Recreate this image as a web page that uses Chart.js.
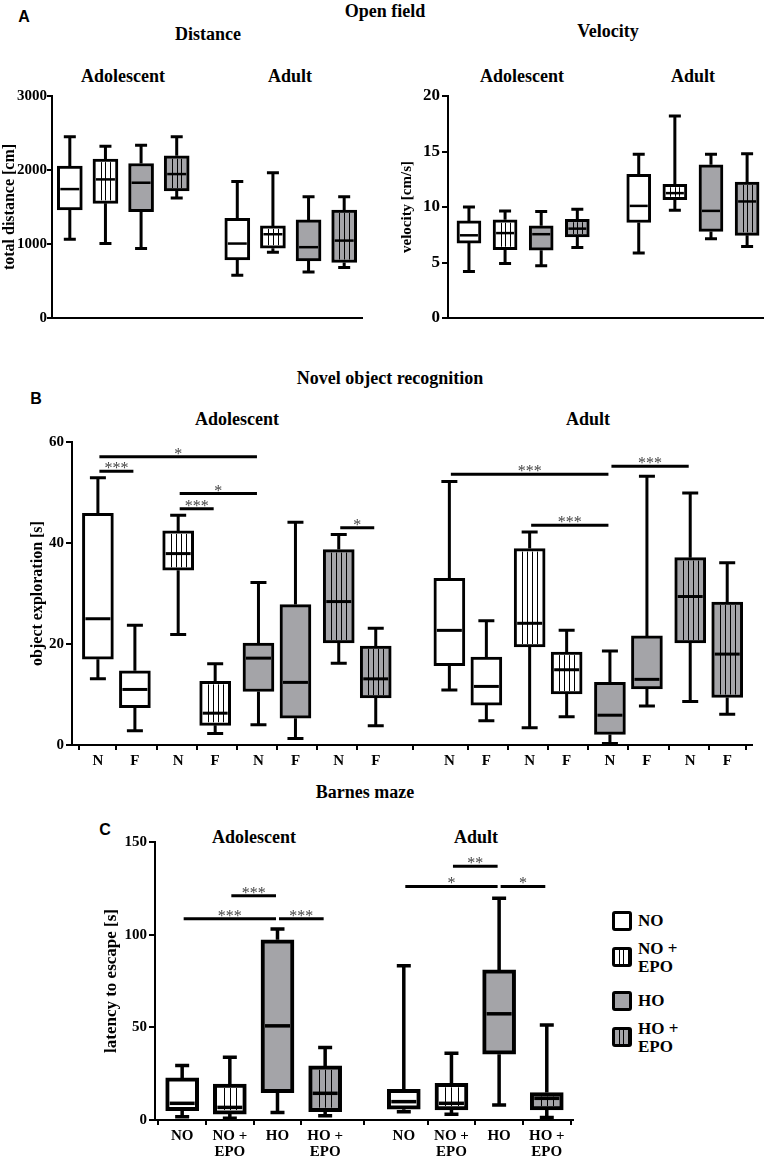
<!DOCTYPE html>
<html>
<head>
<meta charset="utf-8">
<script src="https://cdn.jsdelivr.net/npm/chart.js@4.4.1/dist/chart.umd.min.js"></script>
<style>
body { margin: 0; background: #fff; width: 770px; height: 1160px; position: relative; overflow: hidden;
       font-family: "Liberation Serif", "Times New Roman", serif; color: #000; }
canvas { position: absolute; }
.t { position: absolute; transform: translate(-50%, -50%); font-weight: bold; white-space: nowrap; font-size: 18px; }
.letter { position: absolute; transform: translate(-50%, -50%); font-family: "Liberation Sans", Arial, sans-serif;
          font-weight: bold; font-size: 16px; }
.leg { position: absolute; left: 612px; width: 20px; height: 20px; box-sizing: border-box; border: 3px solid #000; border-radius: 3px; }
.legtxt { position: absolute; left: 638px; font-weight: bold; font-size: 17px; line-height: 18px; transform: translateY(-50%); }
</style>
</head>
<body>

<div class="letter" style="left:24px;top:17px">A</div>
<div class="t" style="left:385px;top:11px">Open field</div>
<div class="t" style="left:208px;top:34px">Distance</div>
<div class="t" style="left:608px;top:31px">Velocity</div>
<div class="t" style="left:123px;top:76px">Adolescent</div>
<div class="t" style="left:290px;top:76px">Adult</div>
<div class="t" style="left:522px;top:76px">Adolescent</div>
<div class="t" style="left:693px;top:76px">Adult</div>

<div class="t" style="left:390px;top:378px">Novel object recognition</div>
<div class="letter" style="left:36px;top:399px">B</div>
<div class="t" style="left:237px;top:419px">Adolescent</div>
<div class="t" style="left:588px;top:419px">Adult</div>

<div class="t" style="left:365px;top:792px">Barnes maze</div>
<div class="letter" style="left:105px;top:830px">C</div>
<div class="t" style="left:254px;top:837px">Adolescent</div>
<div class="t" style="left:476px;top:837px">Adult</div>

<canvas id="dist" width="370" height="260" style="left:0;top:80px"></canvas>
<canvas id="vel" width="380" height="260" style="left:390px;top:80px"></canvas>
<canvas id="nor" width="770" height="350" style="left:0;top:430px"></canvas>
<canvas id="barnes" width="600" height="330" style="left:0;top:830px"></canvas>

<div class="leg" style="top:911px;background:#fff"></div>
<div class="legtxt" style="top:921px">NO</div>
<div class="leg" style="top:947px;background:#fff repeating-linear-gradient(90deg, transparent 0 3.5px, #000 3.5px 4.5px)"></div>
<div class="legtxt" style="top:958px">NO +<br>EPO</div>
<div class="leg" style="top:991px;background:#a4a4a8"></div>
<div class="legtxt" style="top:1001px">HO</div>
<div class="leg" style="top:1027px;background:#a4a4a8 repeating-linear-gradient(90deg, transparent 0 3.5px, #000 3.5px 4.5px)"></div>
<div class="legtxt" style="top:1038px">HO +<br>EPO</div>

<script>
// groups: adolescent NO, NO+EPO, HO, HO+EPO, then adult in the same order
const treatments = ['NO', 'NO + EPO', 'HO', 'HO + EPO'];

// open field - distance [cm]
const distMin = [1064, 1006, 939, 1621, 579, 889, 620, 683];
const distQ1 = [1460, 1549, 1437, 1716, 786, 943, 772, 750];
const distMed = [1742, 1873, 1828, 1945, 1006, 1132, 957, 1046];
const distQ3 = [2052, 2147, 2088, 2192, 1347, 1244, 1325, 1460];
const distMax = [2448, 2322, 2335, 2448, 1846, 1963, 1639, 1639];

// open field - velocity [cm/s]
const velMin = [4.2, 4.9, 4.7, 6.35, 5.85, 9.7, 7.15, 6.45];
const velQ1 = [6.75, 6.15, 6.1, 7.3, 8.6, 10.65, 7.8, 7.45];
const velMed = [7.45, 7.65, 7.55, 8.05, 10.1, 11.25, 9.65, 10.5];
const velQ3 = [8.75, 8.85, 8.3, 8.9, 12.95, 12.05, 13.8, 12.25];
const velMax = [10.0, 9.65, 9.6, 9.8, 14.75, 18.2, 14.75, 14.8];

// novel object recognition [s]; N/F pairs per group, adolescent then adult
const norTickLabels = ['N', 'F', 'N', 'F', 'N', 'F', 'N', 'F', 'N', 'F', 'N', 'F', 'N', 'F', 'N', 'F'];
const norMin = [13.1, 2.8, 21.9, 2.3, 4.0, 1.3, 16.2, 3.8, 10.9, 4.8, 3.4, 5.6, 0.3, 7.7, 8.6, 6.1];
const norQ1 = [17.0, 7.4, 34.6, 3.9, 10.6, 5.3, 20.2, 9.3, 15.7, 7.9, 19.4, 10.1, 2.1, 11.1, 20.2, 9.4];
const norMed = [25.0, 11.0, 37.9, 6.3, 17.2, 12.4, 28.4, 13.1, 22.7, 11.6, 24.1, 14.9, 5.9, 13.0, 29.4, 18.0];
const norQ3 = [45.9, 14.7, 42.4, 12.6, 20.2, 27.8, 38.7, 19.6, 33.0, 17.4, 38.9, 18.4, 12.4, 21.6, 37.1, 28.3];
const norMax = [52.9, 23.7, 45.5, 16.1, 32.2, 44.1, 41.7, 23.1, 52.2, 24.6, 42.2, 22.7, 18.6, 53.2, 49.9, 36.1];
// [from box, to box, level, stars]
const norSig = [[0, 4, 57.1, '*'], [0, 1, 54.2, '***'], [2, 4, 49.8, '*'], [2, 3, 46.8, '***'], [6, 7, 43.0, '*'],
                [8, 12, 53.6, '***'], [12, 14, 55.2, '***'], [10, 12, 43.5, '***']];

// barnes maze latency [s]
const barnesTickLabels = ['NO', ['NO +', 'EPO'], 'HO', ['HO +', 'EPO'], 'NO', ['NO +', 'EPO'], 'HO', ['HO +', 'EPO']];
const barnesMin = [1.8, 0.9, 4.0, 2.3, 4.5, 3.1, 8.1, 1.4];
const barnesQ1 = [5.0, 3.2, 14.8, 4.5, 5.8, 5.4, 35.5, 5.4];
const barnesMed = [9.0, 6.8, 50.8, 14.4, 9.9, 9.0, 57.3, 11.7];
const barnesQ3 = [22.7, 19.4, 97.2, 29.2, 16.6, 19.8, 81.0, 14.8];
const barnesMax = [29.4, 33.9, 103.0, 39.1, 83.2, 36.0, 119.7, 51.3];
const barnesSig = [[0, 2, 108.6, '***'], [1, 2, 121.0, '***'], [2, 3, 108.6, '***'],
                   [4, 6, 126.0, '*'], [5, 6, 136.9, '**'], [6, 7, 126.0, '*']];

const fills = ['#ffffff', '#ffffff', '#a4a4a8', '#a4a4a8'];
const striped = [false, true, false, true];
const serif = '"Liberation Serif", "Times New Roman", serif';

function boxPlugin(o) {
  return {
    id: 'boxes',
    afterDatasetsDraw(chart) {
      const ctx = chart.ctx;
      const y = chart.scales.y;
      chart.data.datasets.forEach((ds, di) => {
        chart.getDatasetMeta(di).data.forEach((bar, i) => {
          const p = ds.data[i];
          const half = bar.width / 2;
          const bw = ds.borderWidth;
          const top = Math.min(bar.y, bar.base), bot = Math.max(bar.y, bar.base);
          ctx.save();
          ctx.strokeStyle = '#000';
          if (ds.striped) {
            ctx.lineWidth = 1;
            ctx.beginPath();
            const inner = bar.width - 2 * bw;
            const n = Math.round(inner / o.stripeGap);
            for (let k = 1; k < n; k++) {
              const sx = Math.round(bar.x - half + bw + k * inner / n) + 0.5;
              ctx.moveTo(sx, top + bw);
              ctx.lineTo(sx, bot - bw);
            }
            ctx.stroke();
          }
          const ym = y.getPixelForValue(p.med);
          ctx.lineWidth = o.medW;
          ctx.beginPath();
          ctx.moveTo(bar.x - half + bw, ym);
          ctx.lineTo(bar.x + half - bw, ym);
          ctx.stroke();

          const yHi = y.getPixelForValue(p.hi), yLo = y.getPixelForValue(p.lo);
          ctx.lineWidth = o.whiskW;
          ctx.beginPath();
          ctx.moveTo(bar.x, top); ctx.lineTo(bar.x, yHi);
          ctx.moveTo(bar.x - o.cap / 2, yHi); ctx.lineTo(bar.x + o.cap / 2, yHi);
          ctx.moveTo(bar.x, bot); ctx.lineTo(bar.x, yLo);
          ctx.moveTo(bar.x - o.cap / 2, yLo); ctx.lineTo(bar.x + o.cap / 2, yLo);
          ctx.stroke();
          ctx.restore();
        });
      });
    },
    afterDraw(chart) {
      if (!o.sig) return;
      const {ctx, scales: {x, y}} = chart;
      ctx.save();
      o.sig.forEach(s => {
        const x1 = x.getPixelForValue(o.pos(s[0])) + 1.5;
        const x2 = x.getPixelForValue(o.pos(s[1])) - 1.5;
        const yy = y.getPixelForValue(s[2]);
        ctx.strokeStyle = '#000';
        ctx.lineWidth = 3;
        ctx.beginPath();
        ctx.moveTo(x1, yy);
        ctx.lineTo(x2, yy);
        ctx.stroke();
        ctx.fillStyle = '#444';
        ctx.font = '16px ' + serif;
        ctx.textAlign = 'center';
        ctx.textBaseline = 'alphabetic';
        ctx.fillText(s[3], (x1 + x2) / 2, yy + 2);
      });
      ctx.restore();
    }
  };
}

function boxChart(id, o) {
  const idx = o.q1.map((_, i) => i);
  const datasets = treatments.map((name, t) => ({
    label: name,
    data: idx.filter(i => o.treat(i) === t).map(i => ({
      x: o.pos(i), y: [o.q1[i], o.q3[i]], lo: o.min[i], med: o.med[i], hi: o.max[i]
    })),
    backgroundColor: fills[t],
    borderColor: '#000',
    borderWidth: o.boxLine,
    borderSkipped: false,
    barThickness: o.boxW,
    grouped: false,
    striped: striped[t]
  }));
  const tickPos = idx.map(o.pos);

  return new Chart(document.getElementById(id), {
    type: 'bar',
    data: { datasets },
    options: {
      responsive: false,
      animation: false,
      events: [],
      layout: { padding: { top: o.padTop, right: o.padRight, left: o.padLeft || 0, bottom: 0 } },
      plugins: { legend: { display: false }, tooltip: { enabled: false } },
      scales: {
        x: {
          type: 'linear',
          min: o.xMin,
          max: o.xMax,
          offset: false,
          afterBuildTicks: s => { s.ticks = o.xLabels ? tickPos.map(v => ({ value: v })) : []; },
          afterFit: s => { s.height = o.hx; },
          ticks: {
            display: !!o.xLabels,
            autoSkip: false,
            maxRotation: 0,
            padding: 3,
            color: '#000',
            font: { family: serif, weight: 'bold', size: o.xFont || 14, lineHeight: 1.05 },
            callback: (v, i) => o.xLabels ? o.xLabels[i] : ''
          },
          grid: { display: !!o.xLabels, drawOnChartArea: false, color: '#000', lineWidth: 2, tickLength: 5 },
          border: { display: true, color: '#000', width: 2 }
        },
        y: {
          min: 0,
          max: o.yMax,
          afterFit: s => { s.width = o.wy; },
          ticks: { stepSize: o.yStep, padding: o.tickPad, color: '#000', callback: v => String(v),
                   font: { family: serif, weight: 'bold', size: o.yFont } },
          grid: { drawOnChartArea: false, color: '#000', lineWidth: 2, tickLength: o.tickLen },
          border: { display: true, color: '#000', width: 2 },
          title: { display: true, text: o.yTitle, color: '#000', padding: { top: o.titlePad, bottom: 0 },
                   font: { family: serif, weight: 'bold', size: o.yTitleFont } }
        }
      }
    },
    plugins: [boxPlugin(o)]
  });
}

const posA = i => (i < 4 ? i : 4.7 + (i - 4));
const treatA = i => i % 4;

boxChart('dist', {
  min: distMin, q1: distQ1, med: distMed, q3: distQ3, max: distMax,
  pos: posA, treat: treatA, xMin: -0.5, xMax: 8.2,
  yMax: 3000, yStep: 1000, yFont: 15, yTitle: 'total distance [cm]', yTitleFont: 16, titlePad: 0,
  tickPad: 0, tickLen: 5,
  wy: 52, hx: 22, padTop: 16, padRight: 8,
  boxW: 25, boxLine: 3, medW: 2.5, whiskW: 3, cap: 12, stripeGap: 5
});

boxChart('vel', {
  min: velMin, q1: velQ1, med: velMed, q3: velQ3, max: velMax,
  pos: posA, treat: treatA, xMin: -0.58, xMax: 8.14,
  yMax: 20, yStep: 5, yFont: 17, yTitle: 'velocity [cm/s]', yTitleFont: 15, titlePad: 4,
  tickPad: 2, tickLen: 6,
  wy: 54, padLeft: 4, hx: 22, padTop: 16, padRight: 7,
  boxW: 24, boxLine: 3, medW: 2.5, whiskW: 3, cap: 12, stripeGap: 5
});

const posB = i => (i >= 8 ? 9.5 : 0) + Math.floor((i % 8) / 2) * 2.17 + (i % 2);
boxChart('nor', {
  min: norMin, q1: norQ1, med: norMed, q3: norQ3, max: norMax,
  pos: posB, treat: i => Math.floor((i % 8) / 2), xMin: -0.7, xMax: 17.68,
  xLabels: norTickLabels, xFont: 15,
  yMax: 60, yStep: 20, yFont: 15, yTitle: 'object exploration [s]', yTitleFont: 16, titlePad: 4,
  tickPad: 2, tickLen: 6,
  wy: 48, padLeft: 24, hx: 35, padTop: 12, padRight: 18,
  boxW: 31, boxLine: 3, medW: 3, whiskW: 3, cap: 16, stripeGap: 5.3, sig: norSig
});

boxChart('barnes', {
  min: barnesMin, q1: barnesQ1, med: barnesMed, q3: barnesQ3, max: barnesMax,
  pos: i => (i < 4 ? i : 4.65 + (i - 4)), treat: treatA, xMin: -0.57, xMax: 8.2,
  xLabels: barnesTickLabels, xFont: 15,
  yMax: 150, yStep: 50, yFont: 15, yTitle: 'latency to escape [s]', yTitleFont: 17, titlePad: 4,
  tickPad: 2, tickLen: 6,
  wy: 58, padLeft: 97, hx: 40, padTop: 12, padRight: 27,
  boxW: 33, boxLine: 4, medW: 3.5, whiskW: 3.5, cap: 14, stripeGap: 6, sig: barnesSig
});
</script>
</body>
</html>
